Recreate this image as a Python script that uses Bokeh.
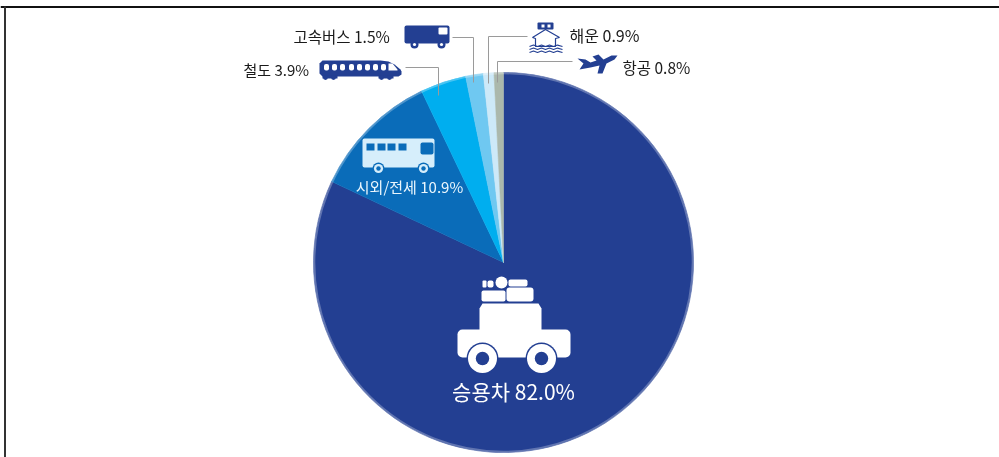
import math
from bokeh.plotting import figure
from bokeh.embed import file_html
from bokeh.resources import INLINE
from bokeh.core.properties import value

categories = ["승용차", "시외/전세", "철도", "고속버스", "해운", "항공"]
shares = [82.0, 10.9, 3.9, 1.5, 0.9, 0.8]
colors = ["#233F92", "#0A6CB9", "#00AEEF", "#6FC8F1", "#CDE9F8", "#ABB8AC"]

W, H = 999, 457
CX, CY, R = 503, 262, 190
FONT = value("Noto Sans CJK KR")
NAVY = "#233F92"
GREY = "#9A9A9A"
INK = "#1A1A1A"

p = figure(width=W, height=H, x_range=(0, W), y_range=(0, H), output_backend="svg",
           toolbar_location=None, min_border=0, outline_line_color=None,
           background_fill_color="white", border_fill_color="white")
p.axis.visible = False
p.grid.visible = False
p.styles = {"position": "fixed", "left": "0px", "top": "0px"}


def Y(v):
    return [H - a for a in v] if isinstance(v, (list, tuple)) else H - v


def box(x0, y0, x1, y1, color, radius=0):
    p.quad(left=x0, right=x1, top=Y(y0), bottom=Y(y1), fill_color=color, line_color=None,
           border_radius=radius)


def poly(xs, ys, color):
    p.patch(xs, Y(ys), fill_color=color, line_color=None)


def dot(x, y, r, color):
    p.circle(x, Y(y), radius=r, fill_color=color, line_color=None)


def text(x, y, s, size, color=INK, align="left"):
    p.text([x], [Y(y)], text=[s], text_font=FONT, text_font_size=f"{size}px", text_color=color,
           text_align=align, text_baseline="middle")


def path(xs, ys, color=GREY, width=1.0):
    p.line(xs, Y(ys), line_color=color, line_width=width)


# frame
path([0, W], [6.5, 6.5], "#111111", 2)
path([4.5, 4.5], [6, H], "#333333", 2)

# pie, clockwise from twelve o'clock
start = math.pi / 2
total = sum(shares)
for s, c in zip(shares, colors):
    end = start - 2 * math.pi * s / total
    p.wedge(x=CX, y=Y(CY), radius=R, start_angle=end, end_angle=start, fill_color=c,
            line_color=c, line_width=0.5)
    start = end
# soft rim
p.circle(CX, Y(CY), radius=R - 0.8, fill_color=None, line_color="#FFFFFF", line_alpha=0.28, line_width=2)

# leader lines
path([405, 438, 438], [67, 67, 95])
path([452, 473, 473], [37, 37, 82])
path([527, 488, 488], [36, 36, 83])
path([572, 497, 497], [61, 61, 82])

# car
poly([482, 538, 541, 541, 479, 479], [303, 303, 308, 332, 332, 308], "white")
box(457, 329, 570, 357, "white", 5)
for wx in (482, 541):
    dot(wx, 358, 16, NAVY)
    dot(wx, 358, 14.5, "white")
    dot(wx, 358, 6.7, NAVY)
box(481, 290, 505, 301, "white", 2)
box(506, 287, 533, 301, "white", 3)
dot(501, 282, 6, "white")
box(508, 279, 527, 286, "white", 2)
box(482, 280, 486, 287, "white", 1)
box(487, 280, 493, 287, "white", 2)
text(513, 390, f"{categories[0]} {shares[0]:.1f}%", 21, "white", "center")

# coach
box(362, 138, 434, 167, "#D6EEFB", 2)
for wx in (366, 377, 387, 398):
    box(wx, 143, wx + 8, 150, "#0A6CB9")
box(420, 142, 433, 154, "#0A6CB9", 2)
for wx in (378, 423):
    dot(wx, 168, 6, "#0A6CB9")
    dot(wx, 168, 4.6, "#D6EEFB")
    dot(wx, 168, 2.2, "#0A6CB9")
text(409, 186, f"{categories[1]} {shares[1]:.1f}%", 15, "#EAF6FD", "center")

# train
poly([322, 380, 388, 394, 400, 401, 401, 398, 322, 319, 319],
     [60, 60, 61, 64, 69, 71, 74, 76, 76, 73, 63], NAVY)
for wx in (326, 334, 342, 351, 359, 367, 375, 383):
    box(wx - 2.5, 63.5, wx + 2.5, 70, "white", 2)
poly([388, 392, 397, 397, 388], [63, 63, 69, 70, 70], "white")
box(322, 75, 337, 78, NAVY)
box(378, 75, 393, 78, NAVY)
for wx in (325, 333, 381, 389):
    dot(wx, 77, 2.4, NAVY)
text(243, 69, f"{categories[2]} {shares[2]:.1f}%", 15)

# truck
box(404, 25, 449, 43, NAVY, 2)
box(438, 27, 447, 34, "white", 1)
for wx in (414, 441):
    dot(wx, 44, 4, NAVY)
    dot(wx, 44, 1.6, "white")
text(293, 35, f"{categories[3]} {shares[3]:.1f}%", 15.5)

# ship
box(537, 22, 553, 29, NAVY, 1)
box(541, 24, 544, 27, "white")
box(547, 24, 550, 27, "white")
p.patch([532, 545, 559, 555, 555, 535, 535], Y([37, 29, 37, 38, 46, 46, 38]),
        fill_color="white", line_color=NAVY, line_width=1.2)
for wy in (46, 49, 52):
    path([529, 533, 537, 541, 545, 549, 553, 557, 562],
         [wy, wy - 1.4, wy, wy - 1.4, wy, wy - 1.4, wy, wy - 1.4, wy], NAVY, 1.1)
text(569, 34, f"{categories[4]} {shares[4]:.1f}%", 16)

# plane
poly([577, 585, 590, 596, 592, 598, 603, 611, 617, 614, 606, 602, 597, 599, 590, 579, 583],
     [58, 59, 62, 60, 56, 54, 59, 55, 55, 59, 63, 73, 73, 65, 67, 69, 63], NAVY)
text(622, 66, f"{categories[5]} {shares[5]:.1f}%", 15.5)

open("out.html", "w").write(file_html(p, INLINE))
